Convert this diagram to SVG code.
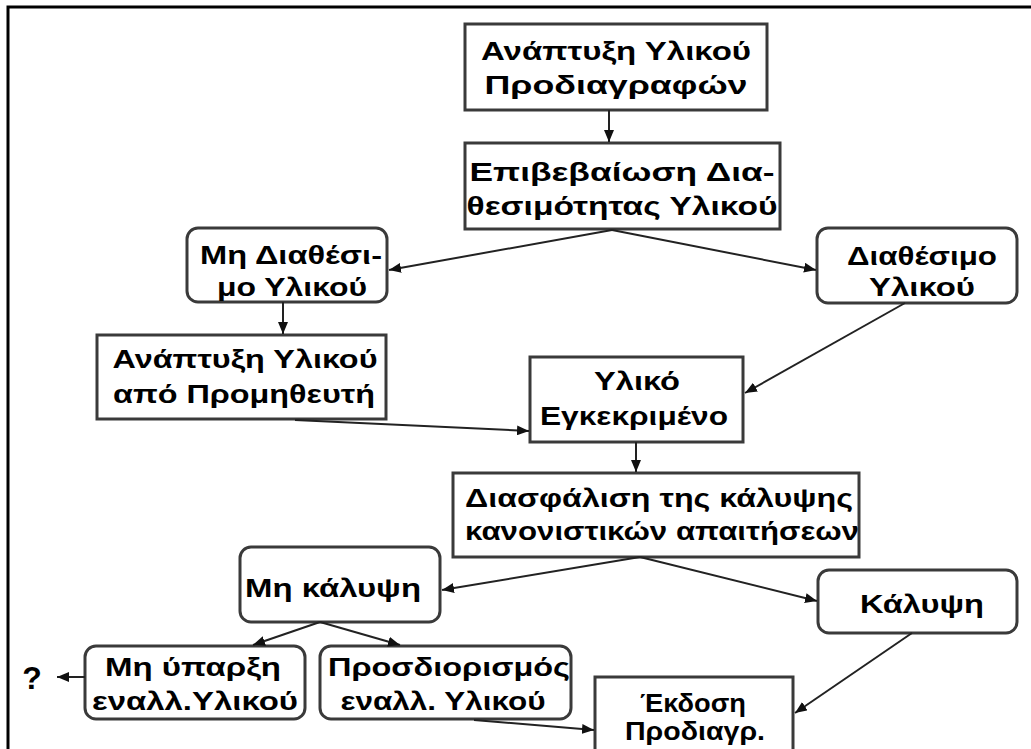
<svg xmlns="http://www.w3.org/2000/svg" width="1031" height="749" viewBox="0 0 1031 749">
<defs>
<marker id="ah" viewBox="0 0 12 10" refX="12" refY="5" markerWidth="12" markerHeight="10" markerUnits="userSpaceOnUse" orient="auto">
<path d="M0,0 L12,5 L0,10 Z" fill="#111"/>
</marker>
</defs>
<style>
.box{fill:#fff;stroke:#3a3a3a;stroke-width:3}
.t{font-family:"Liberation Sans",Arial,sans-serif;font-weight:bold;font-size:26px;fill:#000;text-anchor:middle}
.c{stroke:#222;stroke-width:2;fill:none;marker-end:url(#ah)}
.frame{stroke:#000;stroke-width:3;fill:none}
</style>
<rect width="1031" height="749" fill="#fff"/>
<path class="frame" d="M8,749 L8,7 L1031,7"/>

<g id="n1"><rect class="box" x="465" y="24" width="302" height="86"/>
<text class="t" x="616" y="60" textLength="270" lengthAdjust="spacingAndGlyphs">Ανάπτυξη Υλικού</text>
<text class="t" x="616" y="94" textLength="263" lengthAdjust="spacingAndGlyphs">Προδιαγραφών</text></g>

<g id="n2"><rect class="box" x="465" y="143" width="315" height="86"/>
<text class="t" x="622" y="181" textLength="305" lengthAdjust="spacingAndGlyphs">Επιβεβαίωση Δια-</text>
<text class="t" x="622" y="215" textLength="311" lengthAdjust="spacingAndGlyphs">θεσιμότητας Υλικού</text></g>

<g id="n3"><rect class="box" x="187" y="228" width="200" height="74" rx="11"/>
<text class="t" x="291" y="264" textLength="182" lengthAdjust="spacingAndGlyphs">Μη Διαθέσι-</text>
<text class="t" x="292" y="296" textLength="150" lengthAdjust="spacingAndGlyphs">μο Υλικού</text></g>

<g id="n4"><rect class="box" x="817" y="228" width="200" height="75" rx="11"/>
<text class="t" x="922" y="265" textLength="150" lengthAdjust="spacingAndGlyphs">Διαθέσιμο</text>
<text class="t" x="922" y="296" textLength="106" lengthAdjust="spacingAndGlyphs">Υλικού</text></g>

<g id="n5"><rect class="box" x="97" y="335" width="289" height="84"/>
<text class="t" x="245" y="368" textLength="265" lengthAdjust="spacingAndGlyphs">Ανάπτυξη Υλικού</text>
<text class="t" x="244" y="403" textLength="262" lengthAdjust="spacingAndGlyphs">από Προμηθευτή</text></g>

<g id="n6"><rect class="box" x="530" y="357" width="213" height="85"/>
<text class="t" x="637" y="390" textLength="86" lengthAdjust="spacingAndGlyphs">Υλικό</text>
<text class="t" x="634" y="425" textLength="188" lengthAdjust="spacingAndGlyphs">Εγκεκριμένο</text></g>

<g id="n7"><rect class="box" x="453" y="473" width="406" height="84"/>
<text class="t" x="659" y="507" textLength="388" lengthAdjust="spacingAndGlyphs">Διασφάλιση της κάλυψης</text>
<text class="t" x="662" y="540" textLength="394" lengthAdjust="spacingAndGlyphs">κανονιστικών απαιτήσεων</text></g>

<g id="n8"><rect class="box" x="240" y="547" width="200" height="75" rx="11"/>
<text class="t" x="333" y="597" textLength="176" lengthAdjust="spacingAndGlyphs">Μη κάλυψη</text></g>

<g id="n9"><rect class="box" x="818" y="570" width="199" height="63" rx="11"/>
<text class="t" x="922" y="613" textLength="124" lengthAdjust="spacingAndGlyphs">Κάλυψη</text></g>

<g id="n10"><rect class="box" x="85" y="646" width="220" height="73" rx="11"/>
<text class="t" x="193" y="676" textLength="176" lengthAdjust="spacingAndGlyphs">Μη ύπαρξη</text>
<text class="t" x="195" y="710" textLength="206" lengthAdjust="spacingAndGlyphs">εναλλ.Υλικού</text></g>

<g id="n11"><rect class="box" x="320" y="646" width="251" height="73" rx="11"/>
<text class="t" x="449" y="676" textLength="242" lengthAdjust="spacingAndGlyphs">Προσδιορισμός</text>
<text class="t" x="443" y="710" textLength="205" lengthAdjust="spacingAndGlyphs">εναλλ. Υλικού</text></g>

<g id="n12"><rect class="box" x="595" y="677" width="198" height="90"/>
<text class="t" x="693" y="712" textLength="106" lengthAdjust="spacingAndGlyphs">Έκδοση</text>
<text class="t" x="695" y="740" textLength="140" lengthAdjust="spacingAndGlyphs">Προδιαγρ.</text></g>

<g id="n13"><text class="t" x="32" y="689" style="font-size:32px">?</text></g>

<g id="connectors">
<line class="c" x1="609" y1="110" x2="609" y2="142"/>
<line class="c" x1="612" y1="230" x2="389" y2="270"/>
<line class="c" x1="612" y1="230" x2="816" y2="270"/>
<line class="c" x1="283" y1="302" x2="283" y2="334"/>
<line class="c" x1="295" y1="420" x2="529" y2="431"/>
<line class="c" x1="905" y1="303" x2="745" y2="393"/>
<line class="c" x1="636" y1="442" x2="636" y2="472"/>
<line class="c" x1="640" y1="557" x2="442" y2="590"/>
<line class="c" x1="640" y1="557" x2="817" y2="601"/>
<line class="c" x1="320" y1="622" x2="253" y2="645"/>
<line class="c" x1="320" y1="622" x2="400" y2="645"/>
<line class="c" x1="85" y1="677" x2="57" y2="677"/>
<line class="c" x1="474" y1="720" x2="594" y2="730"/>
<line class="c" x1="912" y1="633" x2="795" y2="713"/>
</g>
</svg>
